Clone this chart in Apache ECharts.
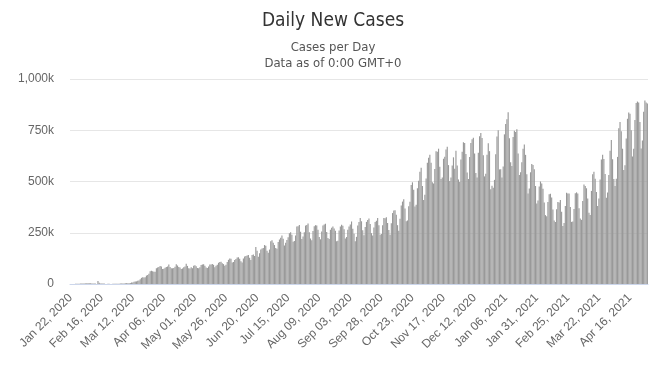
<!DOCTYPE html>
<html>
<head>
<meta charset="utf-8">
<script src="https://cdn.jsdelivr.net/npm/echarts@6/dist/echarts.min.js"></script>
<style>
html,body{margin:0;padding:0;background:#fff;}
#chart{width:666px;height:367px;}
</style>
</head>
<body>
<div id="chart"></div>
<script>
// Daily new cases, in thousands
// Jan 22 2020 - Mar 31 2020
const casesJanMar2020 = [
  0, 0.1, 0.3, 0.5, 0.7, 0.8, 1.5,
  1.7, 2.1, 2.0, 2.1, 2.6, 2.8, 3.2,
  3.7, 3.2, 3.4, 2.7, 3.0, 2.5, 2.0,
  0.4, 15.1, 6.4, 2.1, 2.0, 2.1, 1.9,
  0.6, 0.6, 1.0, 1.0, 0.6, 0.6, 0.9,
  1.0, 1.3, 1.8, 1.8, 1.7, 2.4, 1.9,
  2.4, 2.9, 3.8, 4.0, 3.8, 4.0, 4.5,
  7.4, 7.3, 10.8, 11.6, 12.8, 15.5, 16.7,
  23.5, 30.0, 33.5, 31.6, 33.5, 41.0, 44.1,
  50.5, 62.7, 65.0, 62.3, 59.5, 60.3, 76.3
];
// Apr 1 2020 - Jun 30 2020
const casesAprJun2020 = [
  80.0, 82.6, 87.5, 85.0, 73.1, 75.0, 79.1,
  83.0, 85.4, 95.0, 83.3, 77.4, 76.5, 77.8,
  84.0, 96.0, 90.1, 82.7, 80.2, 73.0, 75.9,
  81.2, 85.1, 99.2, 88.2, 77.0, 75.6, 81.1,
  77.0, 89.0, 91.2, 86.0, 78.3, 77.4, 81.2,
  93.0, 95.4, 96.0, 89.6, 80.6, 78.4, 85.6,
  94.8, 95.7, 97.1, 93.6, 81.1, 89.6, 93.9,
  103.5, 107.2, 108.0, 101.5, 97.0, 89.1, 93.5,
  107.0, 118.0, 124.5, 122.8, 105.0, 107.2, 117.0,
  122.0, 129.0, 130.7, 122.7, 111.0, 105.0, 124.0,
  134.0, 136.0, 138.7, 141.0, 128.0, 117.0, 141.0,
  144.0, 136.0, 181.0, 162.0, 133.0, 150.0, 168.0,
  173.0, 176.0, 190.0, 187.0, 162.0, 153.0, 168.0
];
// Jul 1 2020 - Sep 29 2020
const casesJulSep2020 = [
  208.0, 213.0, 201.0, 190.0, 176.0, 172.0, 205.0,
  217.0, 226.0, 236.0, 221.0, 188.0, 201.0, 215.0,
  228.0, 247.0, 253.0, 240.0, 206.0, 210.0, 236.0,
  281.0, 282.0, 288.0, 255.0, 220.0, 232.0, 253.0,
  285.0, 288.0, 295.0, 253.0, 222.0, 213.0, 258.0,
  282.0, 287.0, 285.0, 265.0, 229.0, 218.0, 256.0,
  285.0, 290.0, 294.0, 254.0, 225.0, 220.0, 265.0,
  275.0, 281.0, 271.0, 260.0, 209.0, 211.0, 261.0,
  280.0, 289.0, 284.0, 267.0, 222.0, 229.0, 265.0,
  281.0, 290.0, 305.0, 270.0, 245.0, 208.0, 230.0,
  285.0, 303.0, 322.0, 306.0, 262.0, 238.0, 278.0,
  303.0, 312.0, 320.0, 293.0, 248.0, 237.0, 276.0,
  302.0, 309.0, 322.0, 286.0, 240.0, 244.0, 286.0
];
// Sep 30 2020 - Dec 29 2020
const casesOctDec2020 = [
  322.0, 321.0, 326.0, 297.0, 264.0, 240.0, 296.0,
  346.0, 359.0, 360.0, 338.0, 287.0, 260.0, 318.0,
  383.0, 402.0, 414.0, 368.0, 306.0, 310.0, 379.0,
  401.0, 483.0, 496.0, 460.0, 378.0, 387.0, 467.0,
  504.0, 547.0, 567.0, 478.0, 410.0, 435.0, 515.0,
  591.0, 616.0, 630.0, 591.0, 496.0, 490.0, 561.0,
  648.0, 645.0, 660.0, 572.0, 512.0, 520.0, 611.0,
  621.0, 656.0, 670.0, 580.0, 503.0, 519.0, 578.0,
  618.0, 562.0, 650.0, 578.0, 510.0, 497.0, 607.0,
  645.0, 691.0, 688.0, 634.0, 544.0, 512.0, 620.0,
  688.0, 706.0, 713.0, 637.0, 542.0, 519.0, 640.0,
  721.0, 736.0, 712.0, 628.0, 525.0, 538.0, 630.0,
  686.0, 648.0, 462.0, 479.0, 469.0, 508.0, 633.0
];
// Dec 30 2020 - Apr 30 2021
const casesJanApr2021 = [
  720.0, 750.0, 559.0, 560.0, 519.0, 573.0, 730.0,
  780.0, 804.0, 838.0, 711.0, 594.0, 576.0, 717.0,
  748.0, 741.0, 755.0, 637.0, 532.0, 545.0, 594.0,
  660.0, 680.0, 630.0, 535.0, 442.0, 466.0, 545.0,
  585.0, 580.0, 560.0, 478.0, 393.0, 407.0, 476.0,
  500.0, 490.0, 465.0, 398.0, 336.0, 331.0, 400.0,
  438.0, 440.0, 422.0, 364.0, 310.0, 302.0, 365.0,
  400.0, 398.0, 410.0, 352.0, 283.0, 297.0, 380.0,
  445.0, 442.0, 441.0, 376.0, 303.0, 305.0, 366.0,
  443.0, 447.0, 442.0, 370.0, 319.0, 313.0, 405.0,
  485.0, 478.0, 467.0, 417.0, 348.0, 337.0, 454.0,
  535.0, 548.0, 514.0, 449.0, 380.0, 417.0, 510.0,
  607.0, 630.0, 610.0, 536.0, 421.0, 446.0, 532.0,
  650.0, 703.0, 609.0, 512.0, 478.0, 513.0, 620.0,
  760.0, 790.0, 745.0, 660.0, 556.0, 579.0, 710.0,
  806.0, 837.0, 830.0, 750.0, 622.0, 660.0, 800.0,
  883.0, 890.0, 885.0, 790.0, 661.0, 700.0, 840.0,
  895.0, 885.0, 880.0
];

const cases = [].concat(casesJanMar2020, casesAprJun2020, casesJulSep2020, casesOctDec2020, casesJanApr2021);

// Category labels: one per day starting Jan 22, 2020
const monthNames = ['Jan','Feb','Mar','Apr','May','Jun','Jul','Aug','Sep','Oct','Nov','Dec'];
const startDate = Date.UTC(2020, 0, 22);
const categories = [];
for (let i = 0; i < cases.length; i++) {
  const d = new Date(startDate + i * 86400000);
  const dd = String(d.getUTCDate()).padStart(2, '0');
  categories.push(monthNames[d.getUTCMonth()] + ' ' + dd + ', ' + d.getUTCFullYear());
}

const yTicks = [0, 250, 500, 750, 1000];

const chart = echarts.init(document.getElementById('chart'), null, {renderer: 'canvas'});
chart.setOption({
  animation: false,
  backgroundColor: '#fff',
  title: [{
    text: 'Daily New Cases',
    left: 'center',
    top: 7,
    textStyle: {fontFamily: "'Liberation Sans Narrow','DejaVu Sans Condensed',sans-serif", fontSize: 19, fontWeight: 'normal', color: '#333'}
  }, {
    text: 'Cases per Day\nData as of 0:00 GMT+0',
    left: 'center',
    top: 35,
    textStyle: {fontFamily: "'Liberation Sans Narrow','DejaVu Sans Condensed',sans-serif", fontSize: 13, fontWeight: 'normal', color: '#555', lineHeight: 16, align: 'center'}
  }],
  grid: {left: 70, right: 18, top: 79, bottom: 83, containLabel: false},
  xAxis: {
    type: 'category',
    data: categories,
    axisLine: {lineStyle: {color: '#ccd6eb'}},
    axisTick: {show: false},
    axisLabel: {
      interval: 24,
      rotate: 45,
      color: '#666',
      fontSize: 12,
      fontFamily: "'Liberation Sans','DejaVu Sans',sans-serif",
      margin: 12
    }
  },
  yAxis: {
    type: 'value',
    min: yTicks[0],
    max: yTicks[yTicks.length - 1],
    interval: 250,
    axisLine: {show: false},
    axisTick: {show: false},
    splitLine: {lineStyle: {color: '#e6e6e6'}},
    axisLabel: {
      color: '#666',
      fontSize: 12,
      fontFamily: "'Liberation Sans','DejaVu Sans',sans-serif",
      margin: 16,
      formatter: function (v) { return v === 0 ? '0' : v.toLocaleString('en-US') + 'k'; }
    }
  },
  series: [{
    type: 'bar',
    data: cases,
    barCategoryGap: '8%',
    itemStyle: {color: '#999999'}
  }]
});
</script>
</body>
</html>
